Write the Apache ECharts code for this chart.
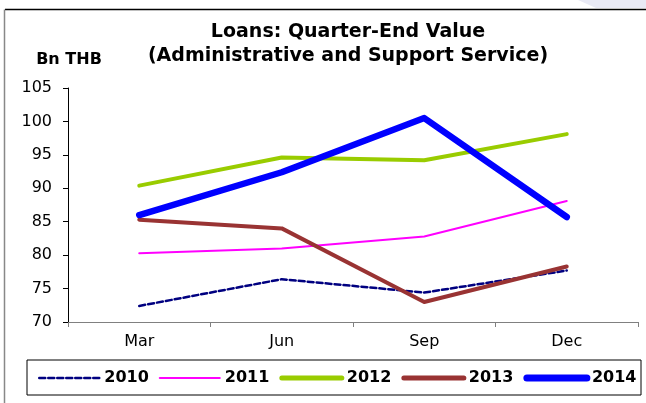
<!DOCTYPE html>
<html>
<head>
<meta charset="utf-8">
<script src="https://cdn.jsdelivr.net/npm/echarts@6/dist/echarts.min.js"></script>
<style>
  html, body { margin: 0; padding: 0; background: #fff; }
  #main { width: 646px; height: 403px; }
</style>
</head>
<body>
<div id="main"></div>
<script>
// quarter-end loan values, Bn THB
const quarters = ['Mar', 'Jun', 'Sep', 'Dec'];
const loans2010 = [72.4, 76.4, 74.4, 77.7];
const loans2011 = [80.3, 81.0, 82.8, 88.1];
const loans2012 = [90.4, 94.6, 94.2, 98.1];
const loans2013 = [85.3, 84.0, 73.0, 78.3];
const loans2014 = [86.0, 92.4, 100.5, 85.7];
const yearNames = ['2010', '2011', '2012', '2013', '2014'];

const font = 'DejaVu Sans';
const colors = ['#000080', '#ff00ff', '#99cc00', '#993333', '#0000ff'];
const widths = [2.5, 2, 4, 4, 6.5];
const legendWidths = [2.5, 2, 5, 5, 7];

function lineSeries(i, data, type) {
  return {
    name: yearNames[i],
    type: 'line',
    data: data,
    symbol: 'none',
    color: colors[i],
    lineStyle: { color: colors[i], width: widths[i], type: type || 'solid', cap: 'round', join: 'round' },
    animation: false
  };
}

const chart = echarts.init(document.getElementById('main'));
chart.setOption({
  animation: false,
  grid: { left: 68, right: 8, top: 88, bottom: 81 },
  graphic: [
    // outer frame
    { type: 'polygon', shape: { points: [[578, 0], [646, 0], [646, 8], [596, 8]] },
      style: { fill: '#e9eaf5' }, silent: true },
    { type: 'line', shape: { x1: 5, y1: 9.5, x2: 646, y2: 9.5 },
      style: { stroke: '#000', lineWidth: 1.5 }, silent: true },
    { type: 'line', shape: { x1: 4.5, y1: 9.5, x2: 4.5, y2: 403 },
      style: { stroke: '#888', lineWidth: 1.5 }, silent: true },
    { type: 'text', x: 348, y: 44.5,
      style: { text: 'Loans: Quarter-End Value\n(Administrative and Support Service)',
        fontFamily: font, fontWeight: 'bold', fontSize: 19, lineHeight: 24,
        fill: '#000', textAlign: 'center', textVerticalAlign: 'middle' } },
    { type: 'text', x: 69, y: 60,
      style: { text: 'Bn THB', fontFamily: font, fontWeight: 'bold', fontSize: 16,
        fill: '#000', textAlign: 'center', textVerticalAlign: 'middle' } },
    // legend box
    { type: 'rect', shape: { x: 27, y: 360, width: 614, height: 35 },
      style: { fill: 'none', stroke: '#000', lineWidth: 1 }, silent: true }
  ],
  legend: {
    data: yearNames.map((n, i) => ({
      name: n,
      lineStyle: { width: legendWidths[i], cap: 'round' }
    })),
    left: 38,
    top: 370,
    width: 640,
    padding: 0,
    itemWidth: 60,
    itemHeight: 14,
    itemGap: 10,
    itemStyle: { opacity: 0 },
    textStyle: { fontFamily: font, fontWeight: 'bold', fontSize: 16, color: '#000' }
  },
  xAxis: {
    type: 'category',
    data: quarters,
    boundaryGap: true,
    axisLine: { lineStyle: { color: '#808080', width: 1 } },
    axisTick: { show: true, length: 5, lineStyle: { color: '#808080' } },
    axisLabel: { fontFamily: font, fontSize: 16, color: '#000', margin: 12 },
    splitLine: { show: false }
  },
  yAxis: {
    type: 'value',
    min: 70,
    max: 105,
    interval: 5,
    axisLine: { show: true, lineStyle: { color: '#000', width: 1 } },
    axisTick: { show: true, length: 5, lineStyle: { color: '#000' } },
    axisLabel: { fontFamily: font, fontSize: 16, color: '#000', margin: 16 },
    splitLine: { show: false }
  },
  series: [
    lineSeries(0, loans2010, [6, 3]),
    lineSeries(1, loans2011),
    lineSeries(2, loans2012),
    lineSeries(3, loans2013),
    lineSeries(4, loans2014)
  ]
});
</script>
</body>
</html>
